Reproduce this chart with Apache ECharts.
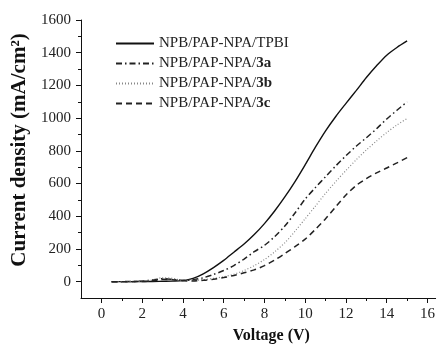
<!DOCTYPE html>
<html>
<head>
<meta charset="utf-8">
<script src="https://cdn.jsdelivr.net/npm/echarts@6/dist/echarts.min.js"></script>
<style>
  html, body { margin: 0; padding: 0; background: #fff; }
  #chart { width: 438px; height: 349px; }
</style>
</head>
<body>
<div id="chart"></div>
<script>
// J-V curves
const voltage = [0.5, 1, 1.5, 2, 2.5, 3, 3.5, 4, 4.5, 5, 5.5, 6, 6.5, 7, 7.5, 8, 8.5, 9, 9.5, 10,
  10.5, 11, 11.5, 12, 12.5, 13, 13.5, 14, 14.5, 15];
const tpbi = [0, 0, 0, 1, 1, 2, 3, 6, 20, 48, 86, 130, 180, 230, 288, 355, 432, 518, 612, 715,
  822, 922, 1010, 1090, 1168, 1248, 1320, 1385, 1432, 1472];
const s3a = [0, 0, 1, 3, 10, 18, 14, 8, 12, 24, 44, 68, 98, 138, 183, 222, 275, 340, 420, 505,
  575, 642, 708, 770, 828, 880, 935, 995, 1048, 1100];
const s3b = [0, 0, 1, 3, 10, 24, 20, 8, 8, 12, 20, 30, 45, 68, 98, 135, 182, 238, 308, 385,
  462, 540, 612, 680, 745, 805, 860, 912, 958, 998];
const s3c = [0, 0, 0, 1, 5, 14, 12, 5, 4, 8, 15, 25, 38, 54, 72, 98, 132, 172, 214, 260,
  320, 385, 458, 530, 588, 630, 665, 695, 726, 758];

const names = ['NPB/PAP-NPA/TPBI', 'NPB/PAP-NPA/3a', 'NPB/PAP-NPA/3b', 'NPB/PAP-NPA/3c'];
const xMajor = [0, 2, 4, 6, 8, 10, 12, 14, 16];
const xMinor = [1, 3, 5, 7, 9, 11, 13, 15];
const yMajor = [0, 200, 400, 600, 800, 1000, 1200, 1400, 1600];
const yMinor = [100, 300, 500, 700, 900, 1100, 1300, 1500];

const font = 'Liberation Serif';
const pairs = arr => voltage.map((v, i) => [v, arr[i]]);
// rich text so the serif face sticks on tick labels
const serifLabel = v => '{t|' + v + '}';
const tickRich = { t: { fontFamily: font, fontSize: 15, color: '#222' } };

const chart = echarts.init(document.getElementById('chart'));

function makeSeries(name, data, color, width, type) {
  return {
    name: name,
    type: 'line',
    data: pairs(data),
    symbol: 'none',
    smooth: 0.3,
    itemStyle: { color: color },
    lineStyle: { color: color, width: width, type: type }
  };
}

chart.setOption({
  animation: false,
  backgroundColor: '#fff',
  textStyle: { fontFamily: font },
  grid: { left: 81, right: 1.5, top: 20, bottom: 46 },
  legend: {
    orient: 'vertical',
    left: 115,
    top: 36,
    padding: 0,
    itemWidth: 38,
    itemHeight: 14,
    itemGap: 5,
    data: names,
    itemStyle: { opacity: 0, borderWidth: 0 },
    formatter: name => {
      const m = name.match(/^(.*\/)(3[abc])$/);
      return m ? '{n|' + m[1] + '}{b|' + m[2] + '}' : '{n|' + name + '}';
    },
    textStyle: {
      fontFamily: font,
      fontSize: 15,
      color: '#222',
      rich: {
        n: { fontFamily: font, fontSize: 15, color: '#222' },
        b: { fontFamily: font, fontSize: 15, color: '#222', fontWeight: 'bold' }
      }
    }
  },
  xAxis: [
    {
      type: 'value',
      min: -1,
      max: 16.4,
      name: 'Voltage (V)',
      nameLocation: 'middle',
      nameGap: 30,
      nameTextStyle: {
        fontFamily: font, fontSize: 16, fontWeight: 'bold', color: '#111',
        padding: [0, 0, 0, 26]
      },
      axisLine: { onZero: false, lineStyle: { color: '#111', width: 1 } },
      axisTick: { length: 5, customValues: xMajor, lineStyle: { color: '#111' } },
      axisLabel: {
        customValues: xMajor, margin: 9, formatter: serifLabel, rich: tickRich,
        fontFamily: font, fontSize: 15, color: '#222'
      },
      splitLine: { show: false }
    },
    {
      type: 'value',
      min: -1,
      max: 16.4,
      position: 'bottom',
      axisLine: { show: false, onZero: false },
      axisTick: { length: 3, customValues: xMinor, lineStyle: { color: '#111' } },
      axisLabel: { show: false },
      splitLine: { show: false }
    }
  ],
  yAxis: [
    {
      type: 'value',
      min: -100,
      max: 1600,
      name: 'Current density (mA/cm²)',
      nameLocation: 'middle',
      nameGap: 42,
      nameTextStyle: {
        fontFamily: font, fontSize: 21, fontWeight: 'bold', color: '#111',
        padding: [0, 0, 0, 18]
      },
      axisLine: { show: true, onZero: false, lineStyle: { color: '#111', width: 1 } },
      axisTick: { show: true, length: 5, customValues: yMajor, lineStyle: { color: '#111' } },
      axisLabel: {
        customValues: yMajor, margin: 10, formatter: serifLabel, rich: tickRich,
        fontFamily: font, fontSize: 15, color: '#222'
      },
      splitLine: { show: false }
    },
    {
      type: 'value',
      min: -100,
      max: 1600,
      position: 'left',
      axisLine: { show: false, onZero: false },
      axisTick: { show: true, length: 3, customValues: yMinor, lineStyle: { color: '#111' } },
      axisLabel: { show: false },
      splitLine: { show: false }
    }
  ],
  series: [
    makeSeries(names[0], tpbi, '#111', 1.4, 'solid'),
    makeSeries(names[1], s3a, '#222', 1.5, [6, 3, 1.5, 3]),
    makeSeries(names[2], s3b, '#888', 1.2, [1, 2]),
    makeSeries(names[3], s3c, '#222', 1.5, [6, 4])
  ]
});
</script>
</body>
</html>
